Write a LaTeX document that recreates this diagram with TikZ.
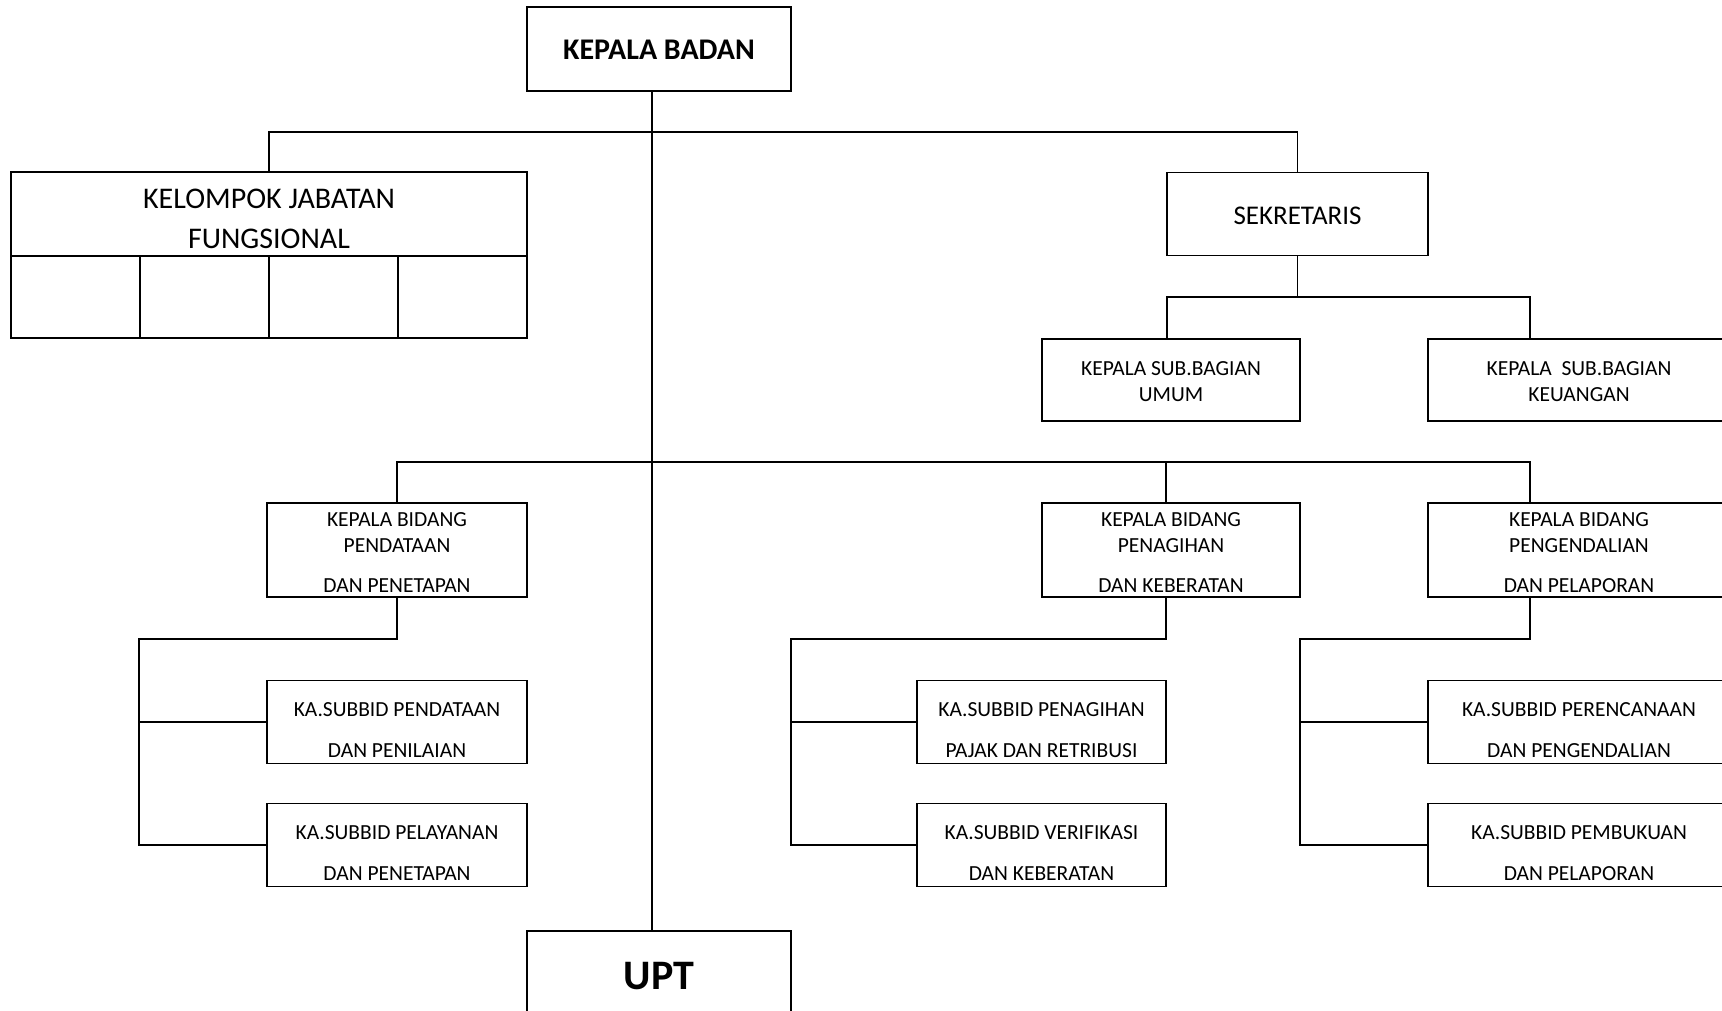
\documentclass[tikz,border=0pt]{standalone}
\usepackage{fontspec}
\setmainfont{Carlito}
\usepackage{tikz}

\tikzset{
  box/.style={draw, line width=1.6pt, inner sep=0pt},
  txt/.style={inner sep=0pt, align=center},
  small/.style={txt, font=\fontsize{21.5}{26}\selectfont},
  wide/.style={txt, font=\fontsize{21.5}{41}\selectfont, yshift=-8.5pt},
  big/.style={txt, font=\fontsize{27}{40.5}\selectfont},
  head/.style={txt, font=\fontsize{30}{36}\selectfont\bfseries}
}

\begin{document}
\begin{tikzpicture}[x=1pt,y=-1pt,line width=1.6pt]
\clip (0,0) rectangle (1722,1011);
\path[use as bounding box] (0,0) rectangle (1722,1011);

% kepala dan upt
\node[box,minimum width=264,minimum height=84] (kb) at (659,49) {};
\node[head,yshift=-1pt] (kbt) at (kb) {KEPALA BADAN};
\node[box,minimum width=264,minimum height=84] (upt) at (659,973) {};
\node[txt,font=\fontsize{42}{50}\selectfont\bfseries,yshift=-3pt] (uptt) at (upt) {UPT};

% kelompok jabatan fungsional
\node[box,minimum width=516,minimum height=84] (kjf) at (269,214) {};
\node[txt,font=\fontsize{30}{40.5}\selectfont,yshift=-5pt] (kjft) at (kjf) {KELOMPOK JABATAN\\FUNGSIONAL};
\foreach \i in {0,...,3}
  \node[box,minimum width=129,minimum height=82] (cell\i) at ({75.5+129*\i},297) {};

% sekretariat
\node[box,minimum width=261,minimum height=83] (sek) at (1297.5,214) {};
\node[big,yshift=-2pt] (sekt) at (sek) {SEKRETARIS};
\node[box,minimum width=258,minimum height=82] (umum) at (1171,380) {};
\node[small,yshift=-2pt] (umumt) at (umum) {KEPALA SUB.BAGIAN\\UMUM};
\node[box,minimum width=302,minimum height=82] (keu) at (1579,380) {};
\node[small,yshift=-2pt] (keut) at (keu) {KEPALA\ \ SUB.BAGIAN\\KEUANGAN};

% bidang
\node[box,minimum width=260,minimum height=94] (bid1) at (397,550) {};
\node[small,yshift=-2.5pt] (bid1t) at (bid1) {KEPALA BIDANG\\PENDATAAN\\[14pt]DAN PENETAPAN};
\node[box,minimum width=258,minimum height=94] (bid2) at (1171,550) {};
\node[small,yshift=-2.5pt] (bid2t) at (bid2) {KEPALA BIDANG\\PENAGIHAN\\[14pt]DAN KEBERATAN};
\node[box,minimum width=302,minimum height=94] (bid3) at (1579,550) {};
\node[small,yshift=-2.5pt] (bid3t) at (bid3) {KEPALA BIDANG\\PENGENDALIAN\\[14pt]DAN PELAPORAN};

% sub bidang
\node[box,minimum width=260,minimum height=83] (sub11) at (397,722) {};
\node[wide] (sub11t) at (sub11) {KA.SUBBID PENDATAAN\\DAN PENILAIAN};
\node[box,minimum width=260,minimum height=83] (sub12) at (397,845) {};
\node[wide] (sub12t) at (sub12) {KA.SUBBID PELAYANAN\\DAN PENETAPAN};
\node[box,minimum width=249,minimum height=83] (sub21) at (1041.5,722) {};
\node[wide] (sub21t) at (sub21) {KA.SUBBID PENAGIHAN\\PAJAK DAN RETRIBUSI};
\node[box,minimum width=249,minimum height=83] (sub22) at (1041.5,845) {};
\node[wide] (sub22t) at (sub22) {KA.SUBBID VERIFIKASI\\DAN KEBERATAN};
\node[box,minimum width=302,minimum height=83] (sub31) at (1579,722) {};
\node[wide] (sub31t) at (sub31) {KA.SUBBID PERENCANAAN\\DAN PENGENDALIAN};
\node[box,minimum width=302,minimum height=83] (sub32) at (1579,845) {};
\node[wide] (sub32t) at (sub32) {KA.SUBBID PEMBUKUAN\\DAN PELAPORAN};

% garis
\coordinate (bus1) at (652,132);
\draw ([xshift=-7pt]kb.south) -- ([xshift=-7pt]upt.north);
\draw (kjf.north) |- (bus1) -| (sek.north);

\coordinate (sbL) at (1167,297);
\coordinate (sbR) at (1530,297);
\draw (sek.south) -- (sek.south |- sbL);
\draw (sbL |- umum.north) -- (sbL) -- (sbR) -- (sbR |- keu.north);

\coordinate (midL) at (397,462);
\coordinate (midM) at (1166,462);
\coordinate (midR) at (1530,462);
\draw (bid1.north) -- (midL) -- (midR) -- (midR |- bid3.north);
\draw (midM) -- (midM |- bid2.north);

\foreach \g/\c/\l in {1/397/139, 2/1166/791, 3/1530/1300} {
  \draw (bid\g.south -| \c,0) -- (\c,639) -| (\l,845) -- (sub\g2.west);
  \draw (\l,722) -- (sub\g1.west);
}
\end{tikzpicture}
\end{document}
